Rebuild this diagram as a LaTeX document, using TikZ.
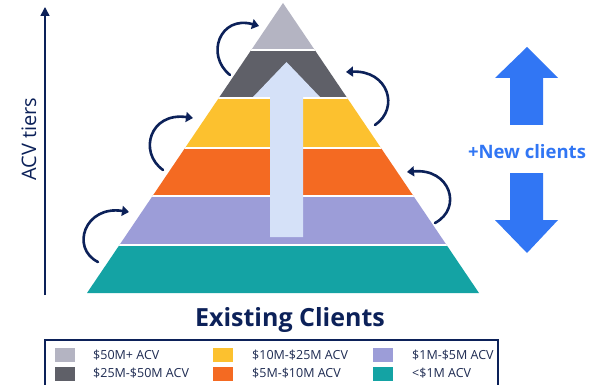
\documentclass[tikz,border=0pt]{standalone}
\usepackage{fontspec}
\setmainfont{Open Sans}
\usetikzlibrary{arrows.meta}
\definecolor{navy}{HTML}{0C2159}
\definecolor{lgray}{HTML}{B4B4C2}
\definecolor{dgray}{HTML}{5F6068}
\definecolor{yel}{HTML}{FCC12F}
\definecolor{ora}{HTML}{F46A22}
\definecolor{lav}{HTML}{9C9DD8}
\definecolor{teal2}{HTML}{14A3A4}
\definecolor{pale}{HTML}{D5E1F8}
\definecolor{bblue}{HTML}{3176F4}
\definecolor{legc}{HTML}{1E2B52}
\tikzset{
  curv/.style={draw=navy, line width=2.6pt, line cap=round, -{Triangle[length=7pt,width=10pt]}},
  swatch/.style={minimum width=20pt, minimum height=14pt, inner sep=0pt},
  legtext/.style={anchor=west, text=legc, font=\fontsize{12.5}{14}\selectfont, inner sep=0pt},
}
\begin{document}
\begin{tikzpicture}[x=1pt,y=-1pt]
\clip (0,0) rectangle (605,385);
\fill[white] (0,0) rectangle (605,385);
% pyramid
\begin{scope}
\clip (283,3) -- (479,293) -- (87,293) -- cycle;
\fill[lgray] (80,0) rectangle (490,50);
\fill[dgray] (80,50) rectangle (490,98);
\fill[yel] (80,98) rectangle (490,148);
\fill[ora] (80,148) rectangle (490,196);
\fill[lav] (80,196) rectangle (490,245);
\fill[teal2] (80,245) rectangle (490,294);
\foreach \yy in {50,98,148,196,245} \draw[white, line width=1.6pt] (80,\yy) -- (490,\yy);
\end{scope}
% central arrow
\fill[pale] (270,237) -- (270,97) -- (253,97) -- (286.5,62) -- (320,97) -- (303,97) -- (303,237) -- cycle;
% curved arrows
\draw[curv] (230,75) .. controls (205,55) and (220,15) .. (259,26);
\draw[curv] (163,170) .. controls (138,152) and (150,112) .. (193,118);
\draw[curv] (98,262) .. controls (70,248) and (85,205) .. (129,212);
\draw[curv] (375,125) .. controls (400,108) and (388,70) .. (346,72);
\draw[curv] (435,223) .. controls (463,208) and (450,168) .. (407,172);
% blue arrows
\fill[bblue] (510,125) -- (510,78) -- (495,78) -- (527,47) -- (558,78) -- (543,78) -- (543,125) -- cycle;
\fill[bblue] (510,173) -- (510,220) -- (495,220) -- (527,253) -- (558,220) -- (543,220) -- (543,173) -- cycle;
\node[text=bblue, font=\fontsize{18.5}{20}\selectfont\bfseries] (newc) at (527,152) {+New clients};
% axis
\coordinate (axb) at (45,295);
\coordinate (axt) at (45,7);
\draw[navy, line width=1.6pt, -{Triangle[length=9pt,width=9pt]}] (axb) -- (axt);
\node[rotate=90, text=navy, font=\fontsize{20}{22}\selectfont] (acv) at (29,139) {ACV tiers};
% title
\node[text=navy, font=\fontsize{25}{27}\selectfont\bfseries] (title) at (290,320) {Existing Clients};
% legend
\draw[navy, line width=1.8pt] (45,340) rectangle (498,390);
\node[swatch, fill=lgray] (s1) at (65,355) {};
\node[swatch, fill=dgray] (s2) at (65,373.5) {};
\node[swatch, fill=yel] (s3) at (223,355) {};
\node[swatch, fill=ora] (s4) at (223,373.5) {};
\node[swatch, fill=lav] (s5) at (383,355) {};
\node[swatch, fill=teal2] (s6) at (383,373.5) {};
\node[legtext] (t1) at (93,355) {\$50M+ ACV};
\node[legtext] (t2) at (93,373.5) {\$25M-\$50M ACV};
\node[legtext] (t3) at (252,355) {\$10M-\$25M ACV};
\node[legtext] (t4) at (252,373.5) {\$5M-\$10M ACV};
\node[legtext] (t5) at (412,355) {\$1M-\$5M ACV};
\node[legtext] (t6) at (412,373.5) {<\$1M ACV};
\end{tikzpicture}
\end{document}
